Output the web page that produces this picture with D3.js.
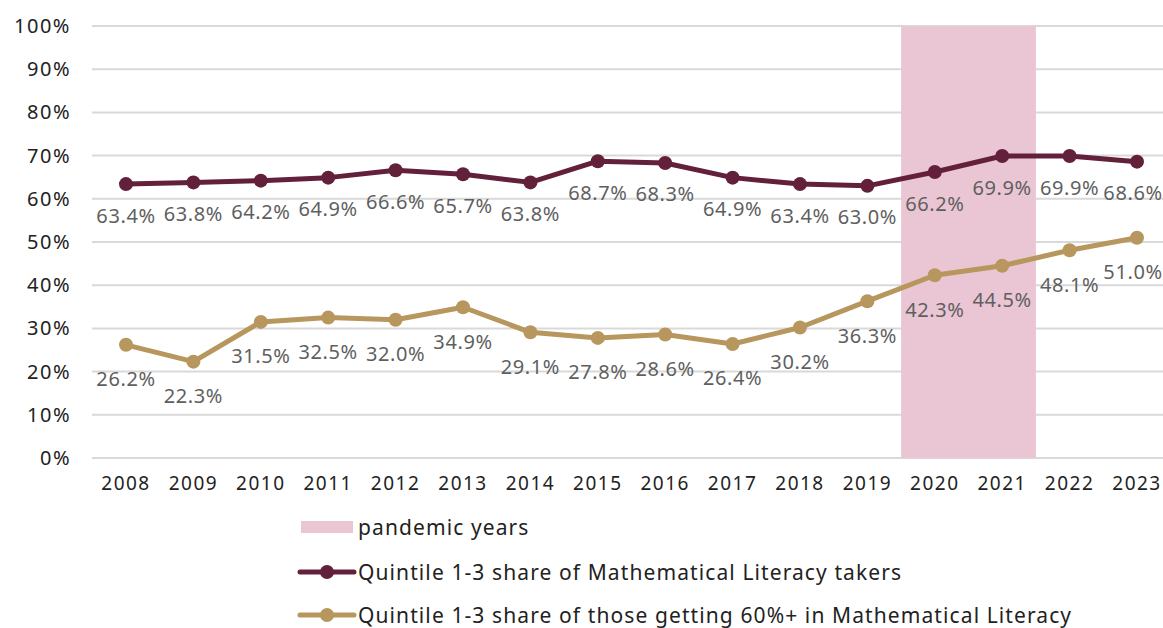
<!DOCTYPE html>
<html><head><meta charset="utf-8">
<script src="https://cdn.jsdelivr.net/npm/d3@7"></script>
<style>
body{margin:0;background:#fff;}
text{font-family:"Noto Sans",sans-serif;}
</style></head>
<body><svg id="c" width="1163" height="628"></svg>
<script>
const years = ["2008","2009","2010","2011","2012","2013","2014","2015","2016","2017","2018","2019","2020","2021","2022","2023"];
const takersShare = [63.4,63.8,64.2,64.9,66.6,65.7,63.8,68.7,68.3,64.9,63.4,63.0,66.2,69.9,69.9,68.6];
const passShare = [26.2,22.3,31.5,32.5,32.0,34.9,29.1,27.8,28.6,26.4,30.2,36.3,42.3,44.5,48.1,51.0];
const pandemicYears = ["2020","2021"];
const yTicks = [0,10,20,30,40,50,60,70,80,90,100];
const seriesNames = ["Quintile 1-3 share of Mathematical Literacy takers","Quintile 1-3 share of those getting 60%+ in Mathematical Literacy"];

const svg = d3.select("#c");
const x = d3.scaleBand().domain(years).range([92.3, 1170.7]).padding(0);
const y = d3.scaleLinear().domain([0,100]).range([458, 26]);
const maroon = "#63203A", gold = "#B8975E", pink = "#EAC6D4";

// gridlines
svg.append("g").selectAll("line").data(yTicks).join("line")
  .attr("x1", 92).attr("x2", 1163).attr("y1", d=>y(d)).attr("y2", d=>y(d))
  .attr("stroke", "#d9d9d9").attr("stroke-width", 2);

// pandemic band
svg.append("rect").attr("x", x(pandemicYears[0])).attr("y", y(100))
  .attr("width", x(pandemicYears[1]) + x.bandwidth() - x(pandemicYears[0]))
  .attr("height", y(0)-y(100)).attr("fill", pink);

// y axis
const yAxis = d3.axisLeft(y).tickValues(yTicks).tickFormat(d=>d+"%").tickSize(0).tickPadding(0);
const ga = svg.append("g").attr("transform","translate(71,0)").call(yAxis);
ga.select(".domain").remove();
ga.selectAll("text").attr("font-size",20).attr("fill","#222").attr("font-family","Noto Sans").attr("letter-spacing",1.5);

// x axis
const xAxis = d3.axisBottom(x).tickSize(0).tickPadding(0);
const gx = svg.append("g").attr("transform","translate(0,476)").call(xAxis);
gx.select(".domain").remove();
gx.selectAll("text").attr("font-size",19).attr("fill","#222").attr("font-family","Noto Sans").attr("dy","0.71em").attr("letter-spacing",1.5);

const cx = d => x(d) + x.bandwidth()/2;
const line = d3.line().x((d,i)=>cx(years[i])).y(d=>y(d));

function drawSeries(vals, color, dy){
  svg.append("path").datum(vals).attr("d", line).attr("fill","none")
    .attr("stroke", color).attr("stroke-width", 5).attr("stroke-linejoin","round");
  svg.append("g").selectAll("circle").data(vals).join("circle")
    .attr("cx",(d,i)=>cx(years[i])).attr("cy",d=>y(d)).attr("r",7).attr("fill",color);
  svg.append("g").selectAll("text").data(vals).join("text")
    .attr("x",(d,i)=>Math.min(cx(years[i]), 1133)).attr("y",d=>y(d)+dy)
    .attr("text-anchor","middle").attr("dominant-baseline","central")
    .attr("font-size",20).attr("letter-spacing",0.6).attr("fill","#5f5f5f")
    .text(d=>d.toFixed(1)+"%");
}
drawSeries(takersShare, maroon, 31);
drawSeries(passShare, gold, 34);

// legend
const lg = svg.append("g");
lg.append("rect").attr("x",301).attr("y",521).attr("width",52).attr("height",12).attr("fill",pink);
lg.append("text").attr("x",358).attr("y",527).attr("dominant-baseline","central").attr("font-size",21).attr("letter-spacing",1.1).attr("fill","#222").text("pandemic years");
[[maroon,572,seriesNames[0]],[gold,615,seriesNames[1]]].forEach(([c,yy,t])=>{
  lg.append("line").attr("x1",300).attr("x2",354).attr("y1",yy).attr("y2",yy).attr("stroke",c).attr("stroke-width",5).attr("stroke-linecap","round");
  lg.append("circle").attr("cx",327).attr("cy",yy).attr("r",7).attr("fill",c);
  lg.append("text").attr("x",358).attr("y",yy).attr("dominant-baseline","central").attr("font-size",21).attr("letter-spacing",1.1).attr("fill","#222").text(t);
});
</script></body></html>
